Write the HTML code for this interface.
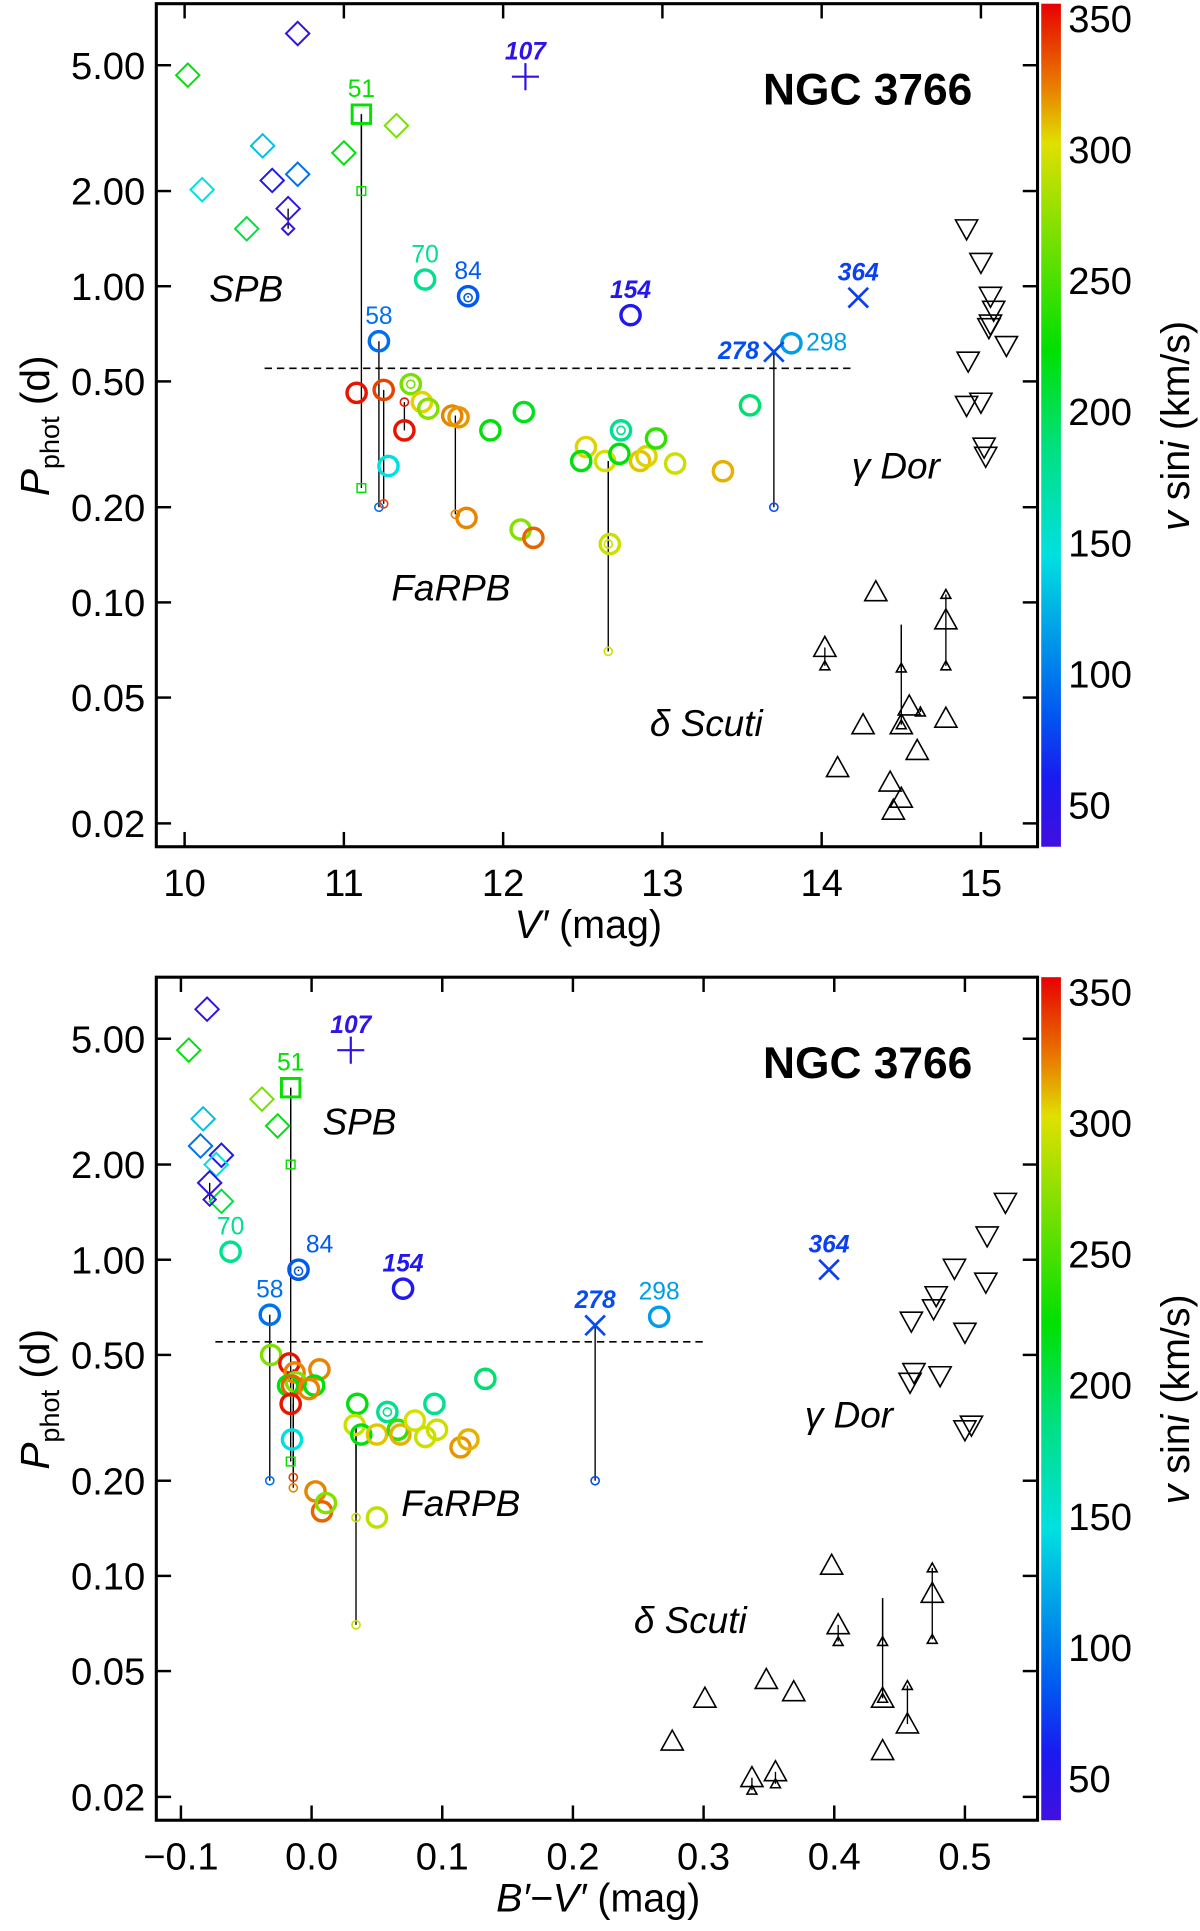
<!DOCTYPE html>
<html><head><meta charset="utf-8">
<style>
html,body{margin:0;padding:0;background:#fff;}
svg{display:block;}
text{font-family:"Liberation Sans",sans-serif;}
</style></head>
<body>
<svg id="chart" width="1200" height="1931" viewBox="0 0 975 1569" preserveAspectRatio="none" xmlns="http://www.w3.org/2000/svg">
<defs>
<linearGradient id="cbar" x1="0" y1="1" x2="0" y2="0">
<stop offset="0" stop-color="#4010e0"/>
<stop offset="0.08" stop-color="#1a1af0"/>
<stop offset="0.16" stop-color="#005af0"/>
<stop offset="0.345" stop-color="#00e0e0"/>
<stop offset="0.47" stop-color="#00e082"/>
<stop offset="0.59" stop-color="#00e000"/>
<stop offset="0.835" stop-color="#e0e000"/>
<stop offset="0.9" stop-color="#e88000"/>
<stop offset="1" stop-color="#e80000"/>
</linearGradient>
</defs>
</svg>
<script>
// ---------- TOP PANEL DATA (V' mag) ----------
const topX = [10.71,10.02,10.49,10.11,10.71,10.55,10.65,10.39,11.00,11.33,11.11,12.14,
 11.51,11.78,12.80,11.22,13.81,13.70,14.23,11.08,11.25,11.38,11.42,11.49,11.53,11.68,11.72,11.77,11.92,12.13,12.11,12.19,12.64,12.67,12.52,12.49,12.74,12.73,12.86,12.90,12.96,13.08,13.38,13.55,11.28,
 14.02,14.34,14.10,14.26,14.43,14.45,14.50,14.50,14.55,14.60,14.78,14.78,
 14.91,15.00,15.06,15.08,15.06,15.05,15.16,14.92,14.91,15.00,15.02,15.03];
const topP = [6.3,4.65,2.78,2.02,2.26,2.16,1.76,1.52,2.64,3.22,3.5,4.6,
 1.05,0.93,0.81,0.67,0.66,0.62,0.92,0.46,0.47,0.35,0.49,0.43,0.41,0.39,0.385,0.185,0.35,0.40,0.17,0.16,0.28,0.153,0.31,0.28,0.35,0.295,0.28,0.29,0.33,0.275,0.26,0.42,0.27,
 0.072,0.108,0.030,0.041,0.027,0.022,0.024,0.041,0.047,0.034,0.043,0.088,
 1.52,1.19,0.93,0.84,0.76,0.74,0.65,0.58,0.42,0.43,0.31,0.29];
const topV = [45,220,130,145,95,55,45,205,220,265,225,45,
 180,85,55,95,115,80,75,350,338,350,265,305,270,322,318,322,220,215,270,330,298,295,305,220,180,220,308,305,240,295,312,190,145,
 0,0,0,0,0,0,0,0,0,0,0,0,
 0,0,0,0,0,0,0,0,0,0,0,0];
const topShape = ['d','d','d','d','d','d','d','d','d','d','s','+',
 'o','o','o','o','o','x','x','o','o','o','o','o','o','o','o','o','o','o','o','o','o','o','o','o','o','o','o','o','o','o','o','o','o',
 'u','u','u','u','u','u','u','u','u','u','u','u',
 'v','v','v','v','v','v','v','v','v','v','v','v'];
const topSecX = [10.65,11.11,11.11,11.22,13.70,11.25,11.38,11.70,12.66,12.66,14.02,14.50,14.50,14.78,14.78,14.62,11.42,11.78,12.74];
const topSecFrom = [1.76,3.5,3.5,0.67,0.62,0.47,0.35,0.39,0.28,0.28,0.072,0.085,0.085,0.088,0.088,0.047,0.49,0.93,0.35];
const topSecTo = [1.52,2.0,0.23,0.20,0.20,0.205,0.43,0.19,0.153,0.07,0.063,0.062,0.041,0.106,0.063,0.045,0.49,0.92,0.35];
const topSecShape = ['d','s','s','o','o','o','o','o','o','o','u','u','u','u','u','u','o','o','o'];
const topSecV = [45,225,225,95,80,338,350,322,295,295,0,0,0,0,0,0,265,85,180];
const topLabels = [['51',11.11,3.5,'n',225],['107',12.14,4.6,'b',45],['70',11.51,1.05,'n',180],['84',11.78,0.93,'n',85],['154',12.80,0.81,'b',55],['58',11.22,0.67,'n',95],['298',13.81,0.66,'r',115],['278',13.70,0.62,'l',80],['364',14.23,0.92,'b',75]];
const topXTicks = [10,11,12,13,14,15];

// ---------- BOTTOM PANEL DATA (B'-V' mag) ----------
const botX = [-0.080,-0.094,-0.083,-0.085,-0.069,-0.073,-0.078,-0.069,-0.038,-0.026,-0.016,0.030,
 -0.062,-0.010,0.070,-0.032,0.266,0.217,0.396,
 -0.031,-0.017,-0.013,-0.012,0.006,-0.018,-0.015,0.002,-0.002,-0.016,-0.015,0.003,0.008,0.011,
 0.035,0.033,0.038,0.050,0.058,0.066,0.068,0.079,0.087,0.094,0.096,0.114,0.120,0.133,0.050,
 0.398,0.403,0.276,0.301,0.348,0.369,0.337,0.355,0.437,0.437,0.456,0.475,
 0.531,0.517,0.492,0.516,0.478,0.476,0.459,0.500,0.461,0.481,0.458,0.505,0.500];
const botP = [6.2,4.6,2.79,2.29,2.14,2.0,1.75,1.53,3.22,2.65,3.5,4.6,
 1.06,0.93,0.81,0.67,0.66,0.62,0.93,
 0.50,0.47,0.44,0.41,0.45,0.40,0.40,0.40,0.39,0.35,0.27,0.185,0.16,0.17,
 0.35,0.30,0.28,0.28,0.33,0.29,0.28,0.31,0.275,0.35,0.29,0.255,0.27,0.42,0.153,
 0.108,0.070,0.030,0.041,0.047,0.043,0.023,0.024,0.041,0.028,0.034,0.088,
 1.52,1.19,0.94,0.85,0.77,0.70,0.64,0.59,0.44,0.43,0.41,0.30,0.29];
const botV = [45,220,130,95,55,145,45,205,265,220,225,45,
 180,85,55,95,115,80,75,
 268,350,322,270,322,220,330,220,322,350,145,322,330,270,
 220,295,220,308,180,240,312,298,295,180,295,318,312,190,290,
 0,0,0,0,0,0,0,0,0,0,0,0,
 0,0,0,0,0,0,0,0,0,0,0,0,0];
const botShape = ['d','d','d','d','d','d','d','d','d','d','s','+',
 'o','o','o','o','o','x','x',
 'o','o','o','o','o','o','o','o','o','o','o','o','o','o',
 'o','o','o','o','o','o','o','o','o','o','o','o','o','o','o',
 'u','u','u','u','u','u','u','u','u','u','u','u',
 'v','v','v','v','v','v','v','v','v','v','v','v','v'];
const botSecX = [-0.078,-0.016,-0.016,-0.032,0.217,-0.014,-0.014,0.034,0.034,0.403,0.437,0.437,0.475,0.475,0.456,0.337,0.355,-0.010,0.058];
const botSecFrom = [1.75,3.5,3.5,0.67,0.62,0.45,0.35,0.30,0.30,0.070,0.085,0.085,0.088,0.088,0.034,0.023,0.024,0.93,0.33];
const botSecTo = [1.55,2.0,0.23,0.20,0.20,0.205,0.19,0.153,0.07,0.062,0.062,0.041,0.106,0.063,0.045,0.021,0.022,0.92,0.33];
const botSecShape = ['d','s','s','o','o','o','o','o','o','u','u','u','u','u','u','u','u','o','o'];
const botSecV = [45,225,225,95,80,338,322,295,295,0,0,0,0,0,0,0,0,85,180];
const botLabels = [['51',-0.016,3.5,'n',225],['107',0.030,4.6,'b',45],['70',-0.062,1.06,'n',180],['84',-0.010,0.93,'r2',85],['154',0.070,0.81,'b',55],['58',-0.032,0.67,'n',95],['298',0.266,0.66,'n',115],['278',0.217,0.62,'b',80],['364',0.396,0.93,'b',75]];
const botXTicks = [-0.1,0.0,0.1,0.2,0.3,0.4,0.5];
const botXTickLabels = ['\u22120.1','0.0','0.1','0.2','0.3','0.4','0.5'];

const yTicks = [5,2,1,0.5,0.2,0.1,0.05,0.02];
const yTickLabels = ['5.00','2.00','1.00','0.50','0.20','0.10','0.05','0.02'];
const cbTicks = [50,100,150,200,250,300,350];

// ---------- drawing ----------
const NS='http://www.w3.org/2000/svg';
const svg=document.getElementById('chart');
function mk(tag,attrs,parent){const e=document.createElementNS(NS,tag);for(const k in attrs)e.setAttribute(k,attrs[k]);(parent||svg).appendChild(e);return e;}
const stops=[[34,[64,16,224]],[60,[26,26,240]],[85,[0,90,240]],[145,[0,224,224]],[185,[0,224,130]],[223,[0,224,0]],[302,[224,224,0]],[323,[232,128,0]],[355,[232,0,0]]];
function col(v){
  if(!v) return '#000';
  if(v<=stops[0][0]) return 'rgb('+stops[0][1]+')';
  for(let i=1;i<stops.length;i++){ if(v<=stops[i][0]){const a=stops[i-1],b=stops[i];const t=(v-a[0])/(b[0]-a[0]);
    return 'rgb('+a[1].map((c,j)=>Math.round(c+(b[1][j]-c)*t)).join(',')+')';}}
  return 'rgb('+stops[stops.length-1][1]+')';
}
function marker(g,shape,x,y,c,small){
  let e;
  if(shape==='o'){ e=mk('circle',{cx:x,cy:y,r:small?3.3:7.8,fill:'none',stroke:c,'stroke-width':small?1.3:2.8},g);}
  else if(shape==='d'){const s=small?5:9.5; e=mk('path',{d:`M${x} ${y-s}L${x+s} ${y}L${x} ${y+s}L${x-s} ${y}Z`,fill:'none',stroke:c,'stroke-width':1.6},g);}
  else if(shape==='s'){const s=small?3.5:7.5; e=mk('rect',{x:x-s,y:y-s,width:2*s,height:2*s,fill:'none',stroke:c,'stroke-width':small?1.2:2.4},g);}
  else if(shape==='+'){ e=mk('path',{d:`M${x-11} ${y}H${x+11}M${x} ${y-11}V${y+11}`,stroke:c,'stroke-width':1.8},g);}
  else if(shape==='x'){ e=mk('path',{d:`M${x-8} ${y-8}L${x+8} ${y+8}M${x+8} ${y-8}L${x-8} ${y+8}`,stroke:c,'stroke-width':small?1.5:2.2},g);}
  else if(shape==='u'){const s=small?4:9; e=mk('path',{d:`M${x} ${y-s}L${x+s} ${y+s*0.8}L${x-s} ${y+s*0.8}Z`,fill:'none',stroke:'#000','stroke-width':1.3},g);}
  else if(shape==='v'){const s=small?4:9; e=mk('path',{d:`M${x} ${y+s}L${x+s} ${y-s*0.8}L${x-s} ${y-s*0.8}Z`,fill:'none',stroke:'#000','stroke-width':1.3},g);}
  return e;
}
function panel(cfg){
  const {top,X,P,V,S,sX,sF,sT,sS,sV,labels,xt,xtl,xlabel,x0,x1,name,spb,farpb,gdor,dsct}=cfg;
  const L=127,R=843,T=top,B=top+685;
  const y5=top+50;
  const sx=v=>x0[1]+(v-x0[0])*(x1[1]-x0[1])/(x1[0]-x0[0]);
  const sy=p=>y5+Math.log10(5/p)*256.9;
  const g=mk('g',{});
  
  
  const dl=mk('line',{x1:cfg.dash[0],x2:cfg.dash[1],y1:sy(0.55),y2:sy(0.55),stroke:'#000','stroke-width':1.3,'stroke-dasharray':'6 4'},g);
  
  
  for(let i=0;i<sX.length;i++){
    const ln=mk('line',{x1:sx(sX[i]),x2:sx(sX[i]),y1:sy(sF[i]),y2:sy(sT[i]),stroke:'#000','stroke-width':1.1},g);
    
    
  }
  for(let i=0;i<X.length;i++){
    const m=marker(g,S[i],sx(X[i]),sy(P[i]),col(V[i]),false);
    
    
  }
  for(let i=0;i<sX.length;i++){
    const m=marker(g,sS[i],sx(sX[i]),sy(sT[i]),col(sV[i]),true);
    
    
  }
  labels.forEach(l=>{
    const x=sx(l[1]),y=sy(l[2]),c=col(l[4]);
    let tx=x,ty=y-14,anchor='middle';
    if(l[3]==='r'){tx=x+12;ty=y+6;anchor='start';}
    if(l[3]==='l'){tx=x-12;ty=y+6;anchor='end';}
    if(l[3]==='r2'){tx=x+6;ty=y-14;anchor='start';}
    const plain=(l[3]==='n'||l[3]==='r'||l[3]==='r2');
    const t=mk('text',{x:tx,y:ty,'font-size':20,fill:c,'text-anchor':anchor,'font-weight':plain?'normal':'bold','font-style':plain?'normal':'italic'},g);
    t.textContent=l[0];
    
    
  });
  [[spb,'SPB'],[farpb,'FaRPB'],[gdor,'\u03b3 Dor'],[dsct,'\u03b4 Scuti']].forEach(a=>{
    const t=mk('text',{x:a[0][0],y:a[0][1],'font-size':30,'font-style':'italic',fill:'#000'},g);
    t.textContent=a[1];
    
    
  });
  const ti=mk('text',{x:790,y:T+82,'font-size':36,'font-weight':'bold','text-anchor':'end'},g);
  ti.textContent='NGC 3766';
  
  
  const fr=mk('rect',{x:L,y:T,width:R-L,height:B-T,fill:'none',stroke:'#000','stroke-width':2.5},g);
  
  
  yTicks.forEach((p,i)=>{
    const y=sy(p);
    mk('line',{x1:L,x2:L+12,y1:y,y2:y,stroke:'#000','stroke-width':2},g);
    mk('line',{x1:R-12,x2:R,y1:y,y2:y,stroke:'#000','stroke-width':2},g);
    const t=mk('text',{x:L-9,y:y+11,'font-size':31,'text-anchor':'end'},g);
    t.textContent=yTickLabels[i];
    
    
  });
  xt.forEach((v,i)=>{
    const x=sx(v);
    mk('line',{x1:x,x2:x,y1:B-12,y2:B,stroke:'#000','stroke-width':2},g);
    mk('line',{x1:x,x2:x,y1:T,y2:T+12,stroke:'#000','stroke-width':2},g);
    const t=mk('text',{x:x,y:B+40,'font-size':31,'text-anchor':'middle'},g);
    t.textContent=xtl[i];
    
    
  });
  const xl=mk('text',{x:cfg.xlx,y:B+74,'font-size':32,'text-anchor':'middle'},g);
  xl.innerHTML=xlabel;
  
  
  const yl=mk('text',{transform:`translate(40 ${T+343}) rotate(-90)`,'font-size':33,'text-anchor':'middle'},g);
  yl.innerHTML='<tspan font-style="italic">P</tspan><tspan font-size="22" dy="8">phot</tspan><tspan dy="-8">  (d)</tspan>';
  
  
  const cb=mk('rect',{x:846,y:T,width:16,height:B-T,fill:'url(#cbar)'},g);
  
  
  const cy=v=>T+651-(v-50)*(639/300);
  cbTicks.forEach(v=>{
    const t=mk('text',{x:868,y:cy(v)+11,'font-size':31},g);
    t.textContent=v;
    
    
  });
  const cl=mk('text',{transform:`translate(966 ${T+343}) rotate(-90)`,'font-size':32,'text-anchor':'middle'},g);
  cl.innerHTML='<tspan font-style="italic">v</tspan> sin<tspan font-style="italic">i</tspan>  (km/s)';
  
  
}
panel({top:3,X:topX,P:topP,V:topV,S:topShape,sX:topSecX,sF:topSecFrom,sT:topSecTo,sS:topSecShape,sV:topSecV,labels:topLabels,
  xt:topXTicks,xtl:topXTicks.map(String),x0:[10,150],x1:[15,797],name:'top-panel-v-mag',dash:[215,693],
  xlabel:'<tspan font-style="italic">V′</tspan>  (mag)',xlx:478,
  spb:[170,245],farpb:[318,488],gdor:[692,389],dsct:[528,598]});
panel({top:794,X:botX,P:botP,V:botV,S:botShape,sX:botSecX,sF:botSecFrom,sT:botSecTo,sS:botSecShape,sV:botSecV,labels:botLabels,
  xt:botXTicks,xtl:botXTickLabels,x0:[-0.1,147],x1:[0.5,784],name:'bottom-panel-color',dash:[175,572],
  xlabel:'<tspan font-style="italic">B′−V′</tspan>  (mag)',xlx:486,
  spb:[262,922],farpb:[326,1232],gdor:[654,1160],dsct:[515,1327]});
</script>
</body></html>
